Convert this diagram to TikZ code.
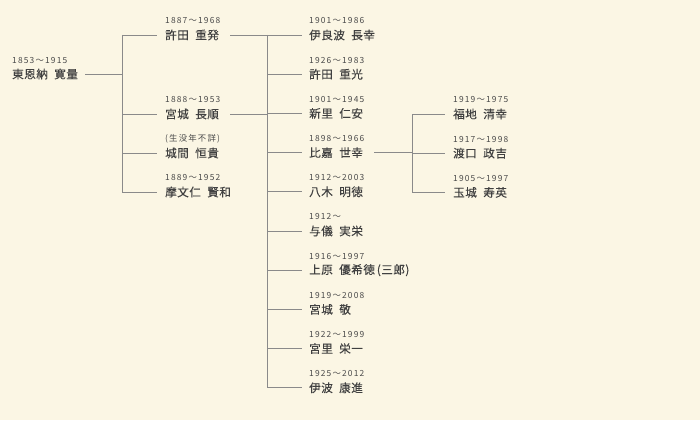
\documentclass[tikz,border=0pt]{standalone}
\usepackage{fontspec}
\newfontfamily\jpname[LetterSpace=4, FakeBold=0.15]{Noto Sans CJK JP}
\newfontfamily\jpyear[LetterSpace=14]{Noto Sans CJK JP}
\usepackage{tikz}
\usetikzlibrary{calc}
\definecolor{paper}{HTML}{FBF6E4}
\definecolor{ink}{HTML}{404040}
\definecolor{yearink}{HTML}{4A4A4A}
\definecolor{wire}{HTML}{8A8A8A}
\newcommand\gap{\hspace{0.55em}}
\tikzset{
	person/.style={anchor=west, inner sep=0pt, text=ink, font=\jpname\fontsize{11.6}{12}\selectfont},
	years/.style={anchor=west, inner sep=0pt, text=yearink, font=\jpyear\fontsize{8.4}{9}\selectfont},
	branch/.style={draw=wire, line width=0.8pt}
}
\begin{document}
\begin{tikzpicture}[x=1pt, y=-1pt]
	\fill[paper] (0,0) rectangle (700,420);
	\coordinate (j1) at (122,0);
	\coordinate (j2) at (267,0);
	\coordinate (j3) at (412,0);
	\node[years] (root-yr) at (12,61) {1853～1915};
	\node[person] (root) at (12,74) {東恩納\gap 寛量};
	\node[years] (g1-0-yr) at (165,21) {1887～1968};
	\node[person] (g1-0) at (165,35) {許田\gap 重発};
	\node[years] (g1-1-yr) at (165,100) {1888～1953};
	\node[person] (g1-1) at (165,114) {宮城\gap 長順};
	\node[years] (g1-2-yr) at (165,139) {(生没年不詳)};
	\node[person] (g1-2) at (165,153) {城間\gap 恒貴};
	\node[years] (g1-3-yr) at (165,178) {1889～1952};
	\node[person] (g1-3) at (165,192) {摩文仁\gap 賢和};
	\foreach \yr/\nm [count=\r from 0] in {1901～1986/伊良波\gap 長幸, 1926～1983/許田\gap 重光, 1901～1945/新里\gap 仁安, 1898～1966/比嘉\gap 世幸, 1912～2003/八木\gap 明徳, 1912～/与儀\gap 実栄, 1916～1997/上原\gap 優希徳\,(三郎), 1919～2008/宮城\gap 敬, 1922～1999/宮里\gap 栄一, 1925～2012/伊波\gap 康進} {
		\node[years] (g2-\r-yr) at (309,21+39.2*\r) {\yr};
		\node[person] (g2-\r) at (309,35+39.2*\r) {\nm};
	}
	\foreach \yr/\nm [count=\r from 0] in {1919～1975/福地\gap 清幸, 1917～1998/渡口\gap 政吉, 1905～1997/玉城\gap 寿英} {
		\node[years] (g3-\r-yr) at (453,100+39.2*\r) {\yr};
		\node[person] (g3-\r) at (453,114+39.2*\r) {\nm};
	}
	\draw[branch] ([xshift=7pt]root.east) -- (j1 |- root.east);
	\draw[branch] (j1 |- g1-0.west) -- (j1 |- g1-3.west);
	\foreach \k in {0,...,3} \draw[branch] (j1 |- g1-\k.west) -- ([xshift=-8pt]g1-\k.west);
	\draw[branch] ([xshift=11pt]g1-0.east) -- (j2 |- g1-0.east);
	\draw[branch] ([xshift=11pt]g1-1.east) -- (j2 |- g1-1.east);
	\draw[branch] (j2 |- g2-0.west) -- (j2 |- g2-9.west);
	\foreach \k in {0,...,9} \draw[branch] (j2 |- g2-\k.west) -- ([xshift=-7pt]g2-\k.west);
	\draw[branch] ([xshift=11pt]g2-3.east) -- (j3 |- g2-3.east);
	\draw[branch] (j3 |- g3-0.west) -- (j3 |- g3-2.west);
	\foreach \k in {0,1,2} \draw[branch] (j3 |- g3-\k.west) -- ([xshift=-8pt]g3-\k.west);
\end{tikzpicture}
\end{document}
